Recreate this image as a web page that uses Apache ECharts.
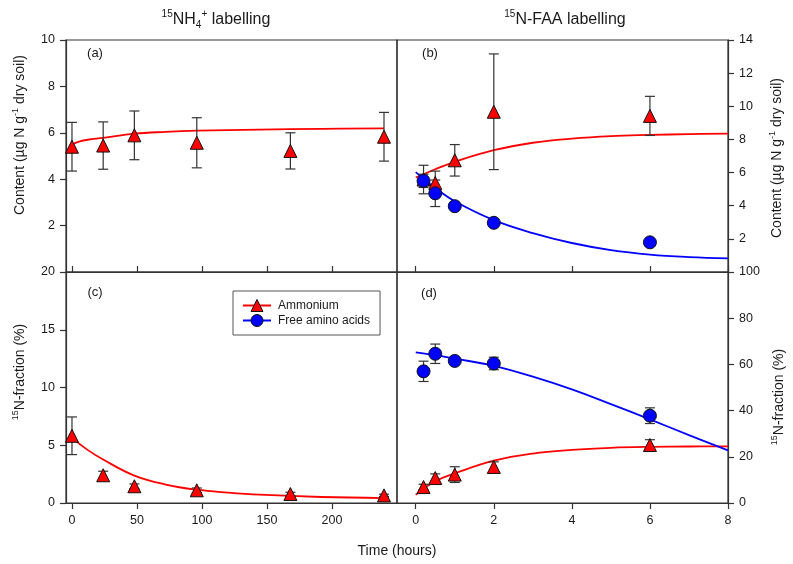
<!DOCTYPE html>
<html>
<head>
<meta charset="utf-8">
<title>15N labelling</title>
<script src="https://cdn.jsdelivr.net/npm/echarts@6/dist/echarts.min.js"></script>
<style>
  html, body { margin: 0; padding: 0; background: #fff; }
  #chart { width: 793px; height: 564px; }
</style>
</head>
<body>
<div id="chart"></div>
<script>
// ---- data ----
// (a) 15NH4+ labelling, ammonium content
const timeA = [0, 24, 48, 96, 168, 240];
const nh4A = [5.4, 5.45, 5.89, 5.57, 5.22, 5.83];
const nh4AErr = [1.05, 1.02, 1.05, 1.08, 0.78, 1.05];
const fitAX = [0, 6, 12, 24, 48, 72, 96, 144, 192, 240];
const fitAY = [5.5, 5.63, 5.7, 5.78, 5.96, 6.04, 6.09, 6.14, 6.17, 6.19];

// (b) 15N-FAA labelling, content
const timeB = [0.2, 0.5, 1, 2, 6];
const nh4B = [5.58, 5.37, 6.74, 9.67, 9.42];
const nh4BErr = [0.86, 0.72, 0.95, 3.49, 1.18];
const faaB = [5.5, 4.75, 3.97, 2.97, 1.79];
const faaBErr = [0.4, 0.8, 0.12, 0.12, 0.12];
const fitBX = [0, 0.5, 1, 2, 3, 4, 5, 6, 7, 8];
const fitBNh4 = [5.7, 6.2, 6.65, 7.35, 7.8, 8.05, 8.2, 8.27, 8.32, 8.35];
const fitBFaa = [6.03, 5.07, 4.27, 3.13, 2.35, 1.75, 1.32, 1.05, 0.9, 0.82];

// (c) 15NH4+ labelling, 15N fraction
const timeC = [0, 24, 48, 96, 168, 240];
const nh4C = [5.82, 2.4, 1.45, 1.1, 0.78, 0.66];
const nh4CErr = [1.63, 0.35, 0.2, 0.2, 0.15, 0.1];
const fitCX = [0, 12, 24, 48, 72, 96, 120, 144, 192, 240];
const fitCY = [5.64, 4.6, 3.76, 2.37, 1.6, 1.15, 0.9, 0.72, 0.52, 0.43];

// (d) 15N-FAA labelling, 15N fraction
const timeD = [0.2, 0.5, 1, 2, 6];
const nh4D = [6.9, 10.8, 12.3, 15.6, 25.1];
const nh4DErr = [1.2, 1.8, 3.4, 2.2, 2.3];
const faaD = [57.0, 64.6, 61.5, 60.4, 37.8];
const faaDErr = [4.4, 4.2, 1.5, 2.7, 3.4];
const fitDX = [0, 0.5, 1, 2, 3, 4, 5, 6, 7, 8];
const fitDNh4 = [3.6, 9.4, 12.8, 18.3, 21.4, 23.0, 23.9, 24.3, 24.45, 24.5];
const fitDFaa = [65.2, 64.0, 62.5, 59.4, 54.7, 49.2, 42.8, 36.2, 29.4, 22.8];

// tick labels
const ticksLong = [0, 50, 100, 150, 200];
const ticksShort = [0, 2, 4, 6, 8];

const FONT = 'Liberation Sans, Arial, Helvetica, sans-serif';
const INK = '#1a1a1a';
const AXIS = '#333';
const RED = '#ff0000';
const BLUE = '#0000ff';

function pairs(xs, ys) {
  return xs.map((x, i) => [x, ys[i]]);
}
function bars(xs, ys, es) {
  return xs.map((x, i) => [x, ys[i] - es[i], ys[i] + es[i]]);
}

function renderErr(params, api) {
  const lo = api.coord([api.value(0), api.value(1)]);
  const hi = api.coord([api.value(0), api.value(2)]);
  const w = 5;
  const st = { stroke: '#333', lineWidth: 1.2 };
  return {
    type: 'group',
    children: [
      { type: 'line', shape: { x1: lo[0], y1: lo[1], x2: hi[0], y2: hi[1] }, style: st },
      { type: 'line', shape: { x1: lo[0] - w, y1: lo[1], x2: lo[0] + w, y2: lo[1] }, style: st },
      { type: 'line', shape: { x1: hi[0] - w, y1: hi[1], x2: hi[0] + w, y2: hi[1] }, style: st }
    ]
  };
}

function errSeries(name, idx, data) {
  return {
    name: name, type: 'custom', xAxisIndex: idx, yAxisIndex: idx,
    renderItem: renderErr, data: data, encode: { x: 0, y: [1, 2] }, z: 3
  };
}
function fitSeries(name, idx, xs, ys, color) {
  return {
    name: name, type: 'line', xAxisIndex: idx, yAxisIndex: idx,
    data: pairs(xs, ys), smooth: 0.4, showSymbol: false, symbol: 'none',
    lineStyle: { color: color, width: 1.8 }, z: 2
  };
}
function dotSeries(name, idx, xs, ys, symbol, color) {
  return {
    name: name, type: 'scatter', xAxisIndex: idx, yAxisIndex: idx,
    data: pairs(xs, ys), symbol: symbol, symbolSize: 13,
    itemStyle: { color: color, borderColor: '#111', borderWidth: 1, opacity: 1 }, z: 4
  };
}

function xAxisOf(idx, min, max, ticks, withLabels) {
  return {
    gridIndex: idx, type: 'value', min: min, max: max, position: 'bottom',
    axisLine: { show: true, onZero: false, lineStyle: { color: AXIS, width: 1.2 } },
    axisTick: { show: true, inside: !withLabels, length: 6, customValues: ticks, lineStyle: { color: AXIS, width: 1.2 } },
    axisLabel: { show: withLabels, customValues: ticks, margin: 11, fontSize: 12.5, color: INK, fontFamily: FONT },
    splitLine: { show: false }
  };
}
function yAxisOf(idx, max, interval, side, showZero) {
  return {
    gridIndex: idx, type: 'value', min: 0, max: max, interval: interval, position: side,
    axisLine: { show: true, onZero: false, lineStyle: { color: AXIS, width: 1.2 } },
    axisTick: { show: true, inside: false, length: 6, lineStyle: { color: AXIS, width: 1.2 } },
    axisLabel: { margin: 11, fontSize: 12.5, color: INK, fontFamily: FONT, showMinLabel: showZero },
    splitLine: { show: false }
  };
}

const supRich = {
  m: { fontSize: 14, lineHeight: 18, fontFamily: FONT, fill: INK, color: INK },
  sup: { fontSize: 9, lineHeight: 9, verticalAlign: 'top', fontFamily: FONT, fill: INK, color: INK }
};
const titleRich = {
  m: { fontSize: 16, lineHeight: 21, fontFamily: FONT, fill: INK, color: INK },
  sup: { fontSize: 10, lineHeight: 10, verticalAlign: 'top', fontFamily: FONT, fill: INK, color: INK },
  sub: { fontSize: 10, lineHeight: 10, verticalAlign: 'bottom', fontFamily: FONT, fill: INK, color: INK }
};

function richText(x, y, text, rich, rotate) {
  return {
    type: 'text', x: x, y: y, rotation: rotate ? Math.PI / 2 : 0,
    style: { text: text, rich: rich, fill: INK, align: 'center', verticalAlign: 'middle',
      textAlign: 'center', textVerticalAlign: 'middle' }
  };
}
function plainText(x, y, text, size) {
  return {
    type: 'text', x: x, y: y,
    style: { text: text, fill: INK, fontSize: size, fontFamily: FONT,
      align: 'center', verticalAlign: 'middle', textAlign: 'center', textVerticalAlign: 'middle' }
  };
}

const gridBox = { show: true, borderColor: AXIS, borderWidth: 1.2, backgroundColor: 'transparent' };

const chart = echarts.init(document.getElementById('chart'), null, { renderer: 'canvas' });

const option = {
  animation: false,
  backgroundColor: '#fff',
  textStyle: { fontFamily: FONT },
  grid: [
    Object.assign({ left: 66, top: 40, width: 331, height: 232 }, gridBox),
    Object.assign({ left: 397, top: 40, width: 331, height: 232 }, gridBox),
    Object.assign({ left: 66, top: 272, width: 331, height: 231 }, gridBox),
    Object.assign({ left: 397, top: 272, width: 331, height: 231 }, gridBox)
  ],
  xAxis: [
    xAxisOf(0, -4.6, 250, ticksLong, false),
    xAxisOf(1, -0.48, 8, ticksShort, false),
    xAxisOf(2, -4.6, 250, ticksLong, true),
    xAxisOf(3, -0.48, 8, ticksShort, true)
  ],
  yAxis: [
    yAxisOf(0, 10, 2, 'left', false),
    yAxisOf(1, 14, 2, 'right', false),
    yAxisOf(2, 20, 5, 'left', true),
    yAxisOf(3, 100, 20, 'right', true)
  ],
  legend: {
    left: 233, top: 291, orient: 'vertical',
    data: ['Ammonium', 'Free amino acids'],
    itemWidth: 28, itemHeight: 15, itemGap: 2,
    padding: [8, 10, 8, 9],
    borderColor: '#555', borderWidth: 1, borderRadius: 0,
    selectedMode: false,
    itemStyle: { borderColor: '#111', borderWidth: 1 },
    textStyle: { fontSize: 12, color: INK, fontFamily: FONT, padding: [0, 0, 0, 2] }
  },
  graphic: [
    richText(216, 20, '{sup|15}{m|NH}{sub|4}{sup|+}{m| labelling}', titleRich, false),
    richText(565, 20, '{sup|15}{m|N-FAA labelling}', titleRich, false),
    richText(20, 135, '{m|Content (\u00b5g N g}{sup|-1}{m| dry soil)}', supRich, true),
    richText(777, 158, '{m|Content (\u00b5g N g}{sup|-1}{m| dry soil)}', supRich, true),
    richText(20, 372, '{sup|15}{m|N-fraction (%)}', supRich, true),
    richText(779, 397, '{sup|15}{m|N-fraction (%)}', supRich, true),
    plainText(397, 551, 'Time (hours)', 14),
    plainText(95, 53, '(a)', 13),
    plainText(430, 53, '(b)', 13),
    plainText(95, 292, '(c)', 13),
    plainText(429, 293, '(d)', 13)
  ],
  series: [
    // legend-only entries
    { name: 'Ammonium', type: 'line', xAxisIndex: 2, yAxisIndex: 2, data: [],
      symbol: 'triangle', itemStyle: { color: RED, borderColor: '#111', borderWidth: 1 },
      lineStyle: { color: RED, width: 1.8 } },
    { name: 'Free amino acids', type: 'line', xAxisIndex: 2, yAxisIndex: 2, data: [],
      symbol: 'circle', itemStyle: { color: BLUE, borderColor: '#111', borderWidth: 1 },
      lineStyle: { color: BLUE, width: 1.8 } },

    // (a)
    fitSeries('fit-a', 0, fitAX, fitAY, RED),
    errSeries('err-a', 0, bars(timeA, nh4A, nh4AErr)),
    dotSeries('nh4-a', 0, timeA, nh4A, 'triangle', RED),

    // (b)
    fitSeries('fit-b-nh4', 1, fitBX, fitBNh4, RED),
    fitSeries('fit-b-faa', 1, fitBX, fitBFaa, BLUE),
    errSeries('err-b-nh4', 1, bars(timeB, nh4B, nh4BErr)),
    errSeries('err-b-faa', 1, bars(timeB, faaB, faaBErr)),
    dotSeries('nh4-b', 1, timeB, nh4B, 'triangle', RED),
    dotSeries('faa-b', 1, timeB, faaB, 'circle', BLUE),

    // (c)
    fitSeries('fit-c', 2, fitCX, fitCY, RED),
    errSeries('err-c', 2, bars(timeC, nh4C, nh4CErr)),
    dotSeries('nh4-c', 2, timeC, nh4C, 'triangle', RED),

    // (d)
    fitSeries('fit-d-nh4', 3, fitDX, fitDNh4, RED),
    fitSeries('fit-d-faa', 3, fitDX, fitDFaa, BLUE),
    errSeries('err-d-nh4', 3, bars(timeD, nh4D, nh4DErr)),
    errSeries('err-d-faa', 3, bars(timeD, faaD, faaDErr)),
    dotSeries('nh4-d', 3, timeD, nh4D, 'triangle', RED),
    dotSeries('faa-d', 3, timeD, faaD, 'circle', BLUE)
  ]
};

chart.setOption(option);
</script>
</body>
</html>
